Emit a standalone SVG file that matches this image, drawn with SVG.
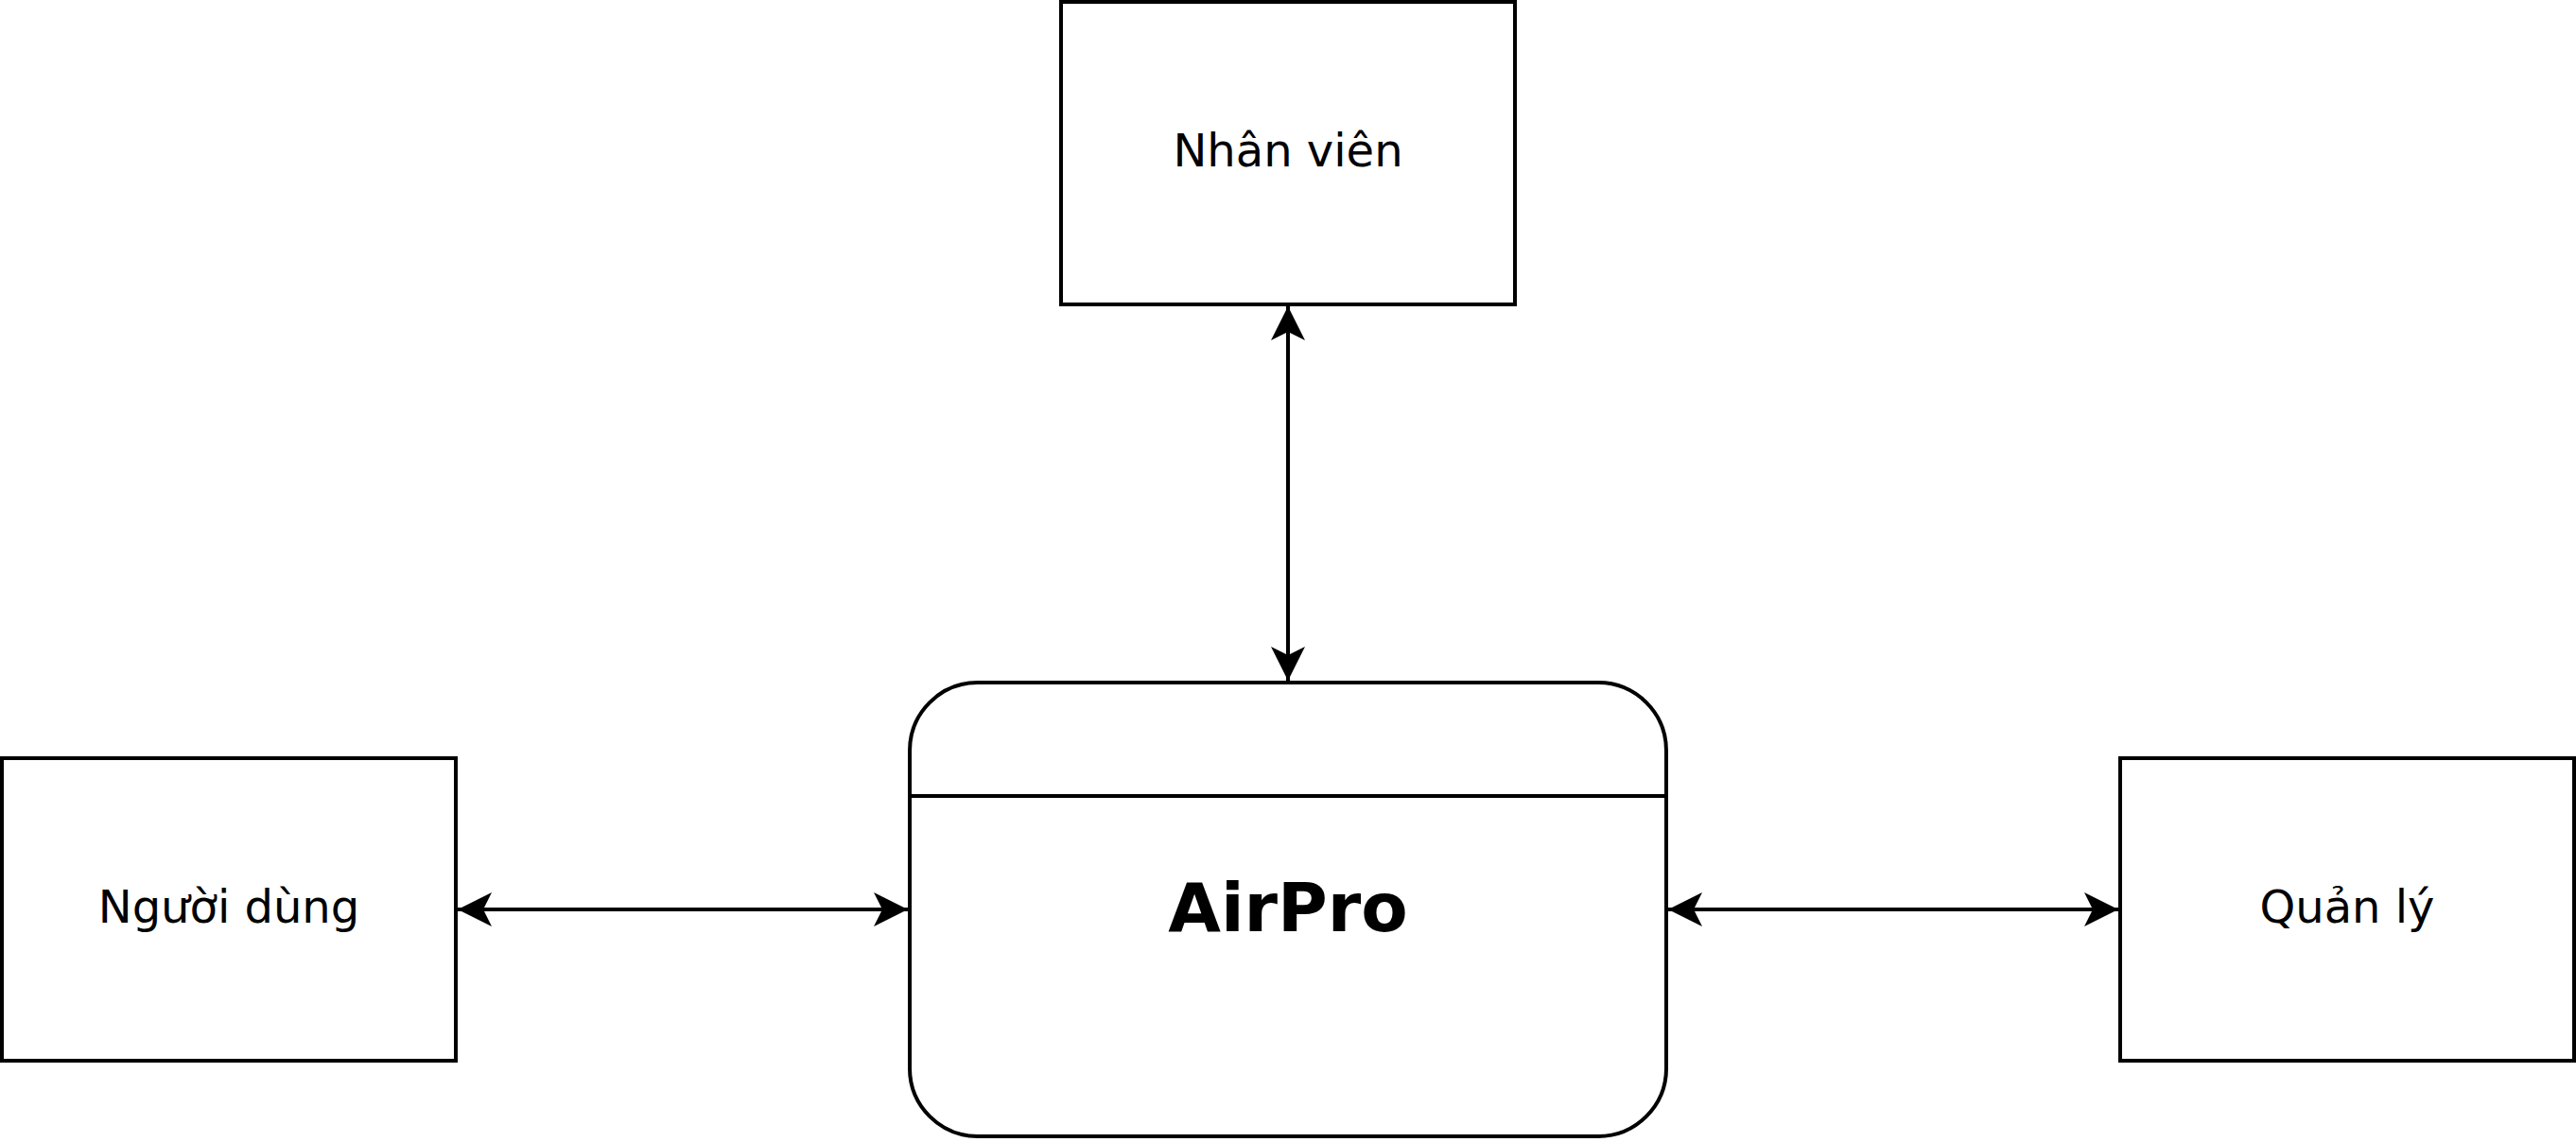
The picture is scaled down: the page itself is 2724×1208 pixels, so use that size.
<svg xmlns="http://www.w3.org/2000/svg" width="2724" height="1208" viewBox="0 0 2724 1208">
<defs>
<style>
.box{fill:#fff;stroke:#000;stroke-width:4}
.lbl{font-family:"DejaVu Sans",sans-serif;font-size:48px;fill:#000;text-anchor:middle}
.title{font-family:"DejaVu Sans",sans-serif;font-size:72px;font-weight:bold;fill:#000;text-anchor:middle}
.edge{stroke:#000;stroke-width:4;fill:none}
</style>
<marker id="arr" viewBox="0 0 40 40" refX="36" refY="20" markerWidth="40" markerHeight="40" markerUnits="userSpaceOnUse" orient="auto-start-reverse">
<path d="M36,20 L0,38 L9,20 L0,2 Z" fill="#000"/>
</marker>
</defs>
<rect width="2724" height="1208" fill="#fff"/>
<g id="connectors">
<line class="edge" x1="1362" y1="324" x2="1362" y2="720" marker-start="url(#arr)" marker-end="url(#arr)"/>
<line class="edge" x1="484" y1="962" x2="960" y2="962" marker-start="url(#arr)" marker-end="url(#arr)"/>
<line class="edge" x1="1764" y1="962" x2="2240" y2="962" marker-start="url(#arr)" marker-end="url(#arr)"/>
</g>
<g id="nhan-vien">
<rect class="box" x="1122" y="2" width="480" height="320"/>
<text class="lbl" x="1362" y="176">Nhân viên</text>
</g>
<g id="airpro">
<rect class="box" x="962" y="722" width="800" height="480" rx="72" ry="72"/>
<line class="edge" x1="962" y1="842" x2="1762" y2="842"/>
<text class="title" x="1362" y="985">AirPro</text>
</g>
<g id="nguoi-dung">
<rect class="box" x="2" y="802" width="480" height="320"/>
<text class="lbl" x="242" y="976">Người dùng</text>
</g>
<g id="quan-ly">
<rect class="box" x="2242" y="802" width="480" height="320"/>
<text class="lbl" x="2482" y="976">Quản lý</text>
</g>
</svg>
